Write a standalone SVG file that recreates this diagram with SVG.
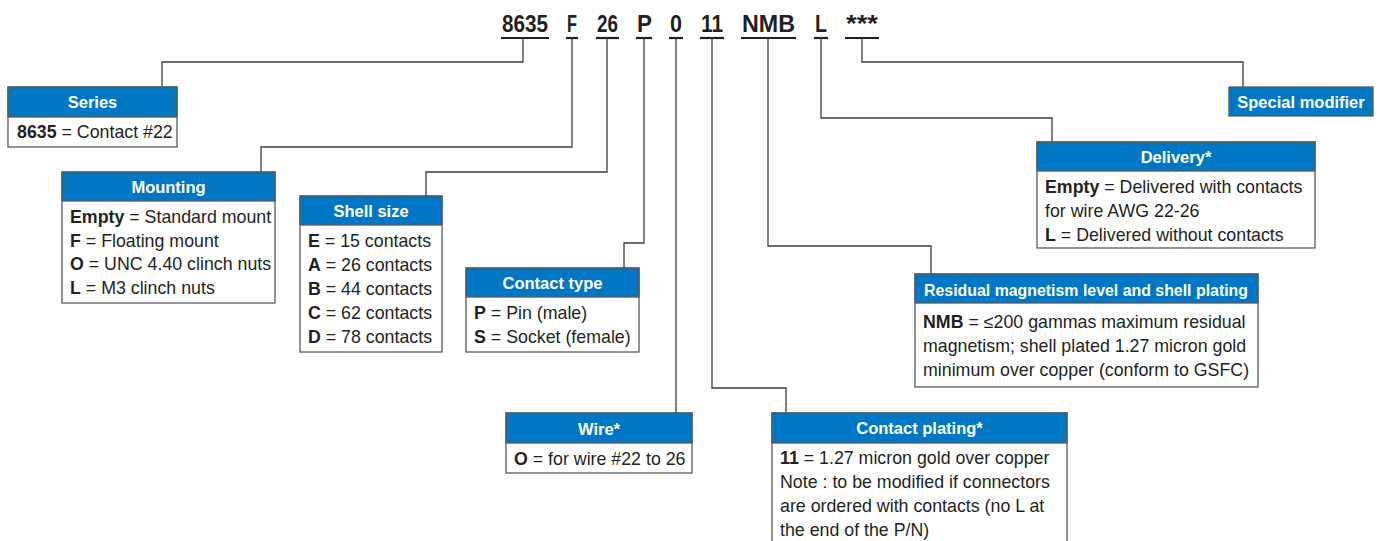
<svg xmlns="http://www.w3.org/2000/svg" width="1380" height="541" viewBox="0 0 1380 541">
<style>
.code{font-family:"Liberation Sans",Arial,sans-serif;font-weight:bold;font-size:24px;fill:#231f20}
.ul{stroke:#231f20;stroke-width:2.2}
.conn{fill:none;stroke:#3c3c3c;stroke-width:1.3}
.box{fill:#fff;stroke:#58595b;stroke-width:1.3}
.hdr{fill:#0077c4;stroke:#58595b;stroke-width:1.3}
.ht{font-family:"Liberation Sans",Arial,sans-serif;font-weight:bold;font-size:16.5px;fill:#fff;text-anchor:middle}
.bt{font-family:"Liberation Sans",Arial,sans-serif;font-size:17.8px;fill:#231f20}
.b{font-weight:bold}
</style>
<g id="code">
<text class="code" x="502" y="32" textLength="46" lengthAdjust="spacingAndGlyphs">8635</text>
<text class="code" x="567" y="32" textLength="10" lengthAdjust="spacingAndGlyphs">F</text>
<text class="code" x="597" y="32" textLength="21" lengthAdjust="spacingAndGlyphs">26</text>
<text class="code" x="637" y="32" textLength="15" lengthAdjust="spacingAndGlyphs">P</text>
<text class="code" x="670" y="32" textLength="12" lengthAdjust="spacingAndGlyphs">0</text>
<text class="code" x="701" y="32" textLength="22" lengthAdjust="spacingAndGlyphs">11</text>
<text class="code" x="742" y="32" textLength="53" lengthAdjust="spacingAndGlyphs">NMB</text>
<text class="code" x="815" y="32" textLength="12" lengthAdjust="spacingAndGlyphs">L</text>
<text class="code" x="846" y="32" textLength="32" lengthAdjust="spacingAndGlyphs">***</text>
<line class="ul" x1="501" y1="38" x2="549" y2="38"/>
<line class="ul" x1="566" y1="38" x2="578" y2="38"/>
<line class="ul" x1="596" y1="38" x2="619" y2="38"/>
<line class="ul" x1="636" y1="38" x2="652" y2="38"/>
<line class="ul" x1="669" y1="38" x2="683" y2="38"/>
<line class="ul" x1="700" y1="38" x2="724" y2="38"/>
<line class="ul" x1="741" y1="38" x2="796" y2="38"/>
<line class="ul" x1="814" y1="38" x2="828" y2="38"/>
<line class="ul" x1="845" y1="38" x2="879" y2="38"/>
</g>
<g id="connectors">
<polyline class="conn" points="523,38 523,62 162,62 162,87"/>
<polyline class="conn" points="572,38 572,147 261,147 261,172"/>
<polyline class="conn" points="607,38 607,172 426,172 426,196"/>
<polyline class="conn" points="644,38 644,243 624,243 624,268"/>
<polyline class="conn" points="676,38 676,413"/>
<polyline class="conn" points="712,38 712,388 786,388 786,413"/>
<polyline class="conn" points="768,38 768,246 931,246 931,274"/>
<polyline class="conn" points="821,38 821,118 1052,118 1052,142"/>
<polyline class="conn" points="862,38 862,62 1243,62 1243,87"/>
</g>
<g id="series">
<rect class="box" x="8" y="87" width="169" height="60"/>
<rect class="hdr" x="8" y="87" width="169" height="30"/>
<text class="ht" x="92.5" y="108">Series</text>
<text class="bt" x="17" y="138"><tspan class="b">8635</tspan> = Contact #22</text>
</g>
<g id="mounting">
<rect class="box" x="62" y="172" width="213" height="131"/>
<rect class="hdr" x="62" y="172" width="213" height="29"/>
<text class="ht" x="168.5" y="193">Mounting</text>
<text class="bt" x="70" y="223"><tspan class="b">Empty</tspan> = Standard mount</text>
<text class="bt" x="70" y="247"><tspan class="b">F</tspan> = Floating mount</text>
<text class="bt" x="70" y="270"><tspan class="b">O</tspan> = UNC 4.40 clinch nuts</text>
<text class="bt" x="70" y="294"><tspan class="b">L</tspan> = M3 clinch nuts</text>
</g>
<g id="shell-size">
<rect class="box" x="300" y="196" width="142" height="156"/>
<rect class="hdr" x="300" y="196" width="142" height="29"/>
<text class="ht" x="371" y="217">Shell size</text>
<text class="bt" x="308" y="247"><tspan class="b">E</tspan> = 15 contacts</text>
<text class="bt" x="308" y="271"><tspan class="b">A</tspan> = 26 contacts</text>
<text class="bt" x="308" y="295"><tspan class="b">B</tspan> = 44 contacts</text>
<text class="bt" x="308" y="319"><tspan class="b">C</tspan> = 62 contacts</text>
<text class="bt" x="308" y="343"><tspan class="b">D</tspan> = 78 contacts</text>
</g>
<g id="contact-type">
<rect class="box" x="466" y="268" width="173" height="84"/>
<rect class="hdr" x="466" y="268" width="173" height="29"/>
<text class="ht" x="552.5" y="289">Contact type</text>
<text class="bt" x="474" y="319"><tspan class="b">P</tspan> = Pin (male)</text>
<text class="bt" x="474" y="343"><tspan class="b">S</tspan> = Socket (female)</text>
</g>
<g id="wire">
<rect class="box" x="506" y="413" width="186" height="60"/>
<rect class="hdr" x="506" y="413" width="186" height="30"/>
<text class="ht" x="599" y="435">Wire*</text>
<text class="bt" x="514" y="465"><tspan class="b">O</tspan> = for wire #22 to 26</text>
</g>
<g id="contact-plating">
<path class="box" d="M772,545 V413 H1067 V545"/>
<rect class="hdr" x="772" y="413" width="295" height="30"/>
<text class="ht" x="919.5" y="434">Contact plating*</text>
<text class="bt" x="780" y="464"><tspan class="b">11</tspan> = 1.27 micron gold over copper</text>
<text class="bt" x="780" y="488">Note : to be modified if connectors</text>
<text class="bt" x="780" y="512">are ordered with contacts (no L at</text>
<text class="bt" x="780" y="536">the end of the P/N)</text>
</g>
<g id="residual">
<rect class="box" x="915" y="274" width="343" height="113"/>
<rect class="hdr" x="915" y="274" width="343" height="29"/>
<text class="ht" x="1086" y="296" textLength="324" lengthAdjust="spacingAndGlyphs">Residual magnetism level and shell plating</text>
<text class="bt" x="923" y="328"><tspan class="b">NMB</tspan> = ≤200 gammas maximum residual</text>
<text class="bt" x="923" y="352">magnetism; shell plated 1.27 micron gold</text>
<text class="bt" x="923" y="376">minimum over copper (conform to GSFC)</text>
</g>
<g id="delivery">
<rect class="box" x="1037" y="142" width="278" height="106"/>
<rect class="hdr" x="1037" y="142" width="278" height="29"/>
<text class="ht" x="1176" y="163">Delivery*</text>
<text class="bt" x="1045" y="193"><tspan class="b">Empty</tspan> = Delivered with contacts</text>
<text class="bt" x="1045" y="217">for wire AWG 22-26</text>
<text class="bt" x="1045" y="241"><tspan class="b">L</tspan> = Delivered without contacts</text>
</g>
<g id="special-modifier">
<rect class="hdr" x="1229" y="87" width="144" height="29"/>
<text class="ht" x="1301" y="108">Special modifier</text>
</g>
</svg>
